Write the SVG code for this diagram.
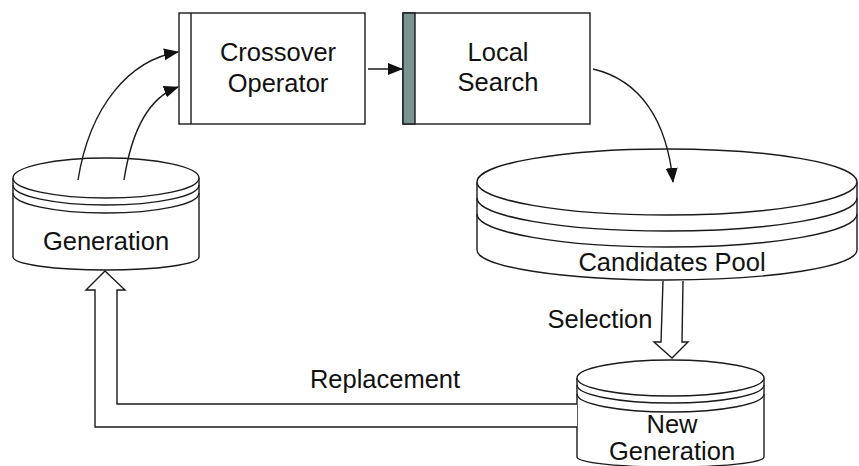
<svg xmlns="http://www.w3.org/2000/svg" width="859" height="466" viewBox="0 0 859 466">
<style>
.ln{fill:none;stroke:#1a1a1a;stroke-width:1.4}
.nd{fill:#fff;stroke:#1a1a1a;stroke-width:1.4}
.t{font-family:"Liberation Sans",Arial,sans-serif;font-size:25.5px;fill:#111;text-anchor:middle}
</style>
<defs>
<marker id="ah" viewBox="0 0 15 12" refX="14" refY="6" markerWidth="15" markerHeight="12" markerUnits="userSpaceOnUse" orient="auto">
<path d="M0,0 L15,6 L0,12 Z" fill="#111"/>
</marker>
</defs>
<rect width="859" height="466" fill="#fff"/>

<g id="crossover">
<rect class="nd" x="179" y="13" width="186" height="111"/>
<line class="ln" x1="191" y1="13" x2="191" y2="124"/>
<text class="t" x="278" y="61">Crossover</text>
<text class="t" x="278" y="92">Operator</text>
</g>

<g id="local-search">
<rect class="nd" x="403" y="13" width="187" height="111"/>
<rect x="403" y="13" width="12" height="111" fill="#7a9490" stroke="#1a1a1a" stroke-width="1.4"/>
<text class="t" x="498" y="61">Local</text>
<text class="t" x="498" y="91">Search</text>
</g>

<g id="generation">
<path class="nd" d="M13,178 L13,257 A93,13 0 0 0 199,257 L199,178"/>
<ellipse class="nd" cx="106" cy="178" rx="93" ry="20"/>
<path class="ln" d="M13,185 A93,20 0 0 0 199,185"/>
<path class="ln" d="M13,193 A93,20 0 0 0 199,193"/>
<text class="t" x="106" y="250">Generation</text>
</g>

<g id="candidates-pool">
<path class="nd" d="M477,182 L477,250 A190,30 0 0 0 857,250 L857,182"/>
<ellipse class="nd" cx="667" cy="182" rx="190" ry="33"/>
<path class="ln" d="M477,198 A190,33 0 0 0 857,198"/>
<path class="ln" d="M477,214 A190,33 0 0 0 857,214"/>
<text class="t" x="672" y="271">Candidates Pool</text>
</g>

<g id="new-generation">
<path class="nd" d="M577,378 L577,457 A93,10 0 0 0 764,457 L764,378"/>
<ellipse class="nd" cx="670.5" cy="378" rx="93.5" ry="18"/>
<path class="ln" d="M577,385 A93.5,18 0 0 0 764,385"/>
<path class="ln" d="M577,394 A93.5,18 0 0 0 764,394"/>
<text class="t" x="672" y="433">New</text>
<text class="t" x="672" y="460">Generation</text>
</g>

<g id="connectors">
<path class="ln" d="M78,180 C90,105 130,60 178,52" marker-end="url(#ah)"/>
<path class="ln" d="M124,180 C132,128 150,97 178,87" marker-end="url(#ah)"/>
<path class="ln" d="M368,69 L402,69" marker-end="url(#ah)"/>
<path class="ln" d="M593,69 C640,80 667,120 673,182" marker-end="url(#ah)"/>
<path class="nd" d="M663,281 L661,342 L654,342 L672,358 L688,342 L682,342 L683,281"/>
<path class="nd" d="M577,427 L95,427 L95,290 L86,290 L105,271 L125,290 L117,290 L117,404 L577,404"/>
<text class="t" x="600" y="328">Selection</text>
<text class="t" x="385" y="388">Replacement</text>
</g>
</svg>
